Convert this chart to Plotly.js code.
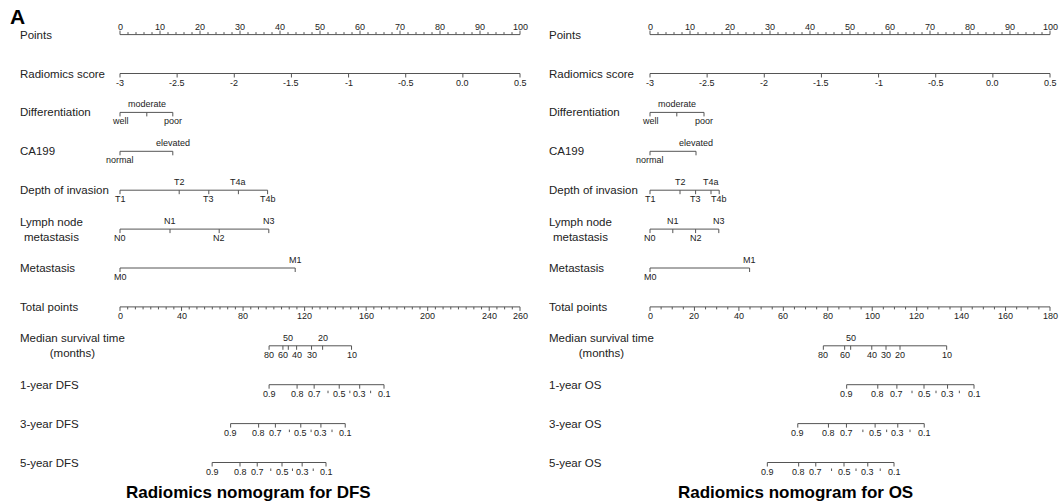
<!DOCTYPE html>
<html><head><meta charset="utf-8">
<script src="https://cdn.plot.ly/plotly-3.0.1.min.js"></script>
<style>html,body{margin:0;padding:0;background:#fff}#chart{width:1060px;height:504px}</style>
</head><body><div id="chart"></div>
<script>
// ---------------- DATA ----------------
const rowNames = ["Points","Radiomics score","Differentiation","CA199","Depth of invasion",
  "Lymph node<br>metastasis","Metastasis","Total points","Median survival time<br>(months)"];
const dfsProbRowNames = ["1-year DFS","3-year DFS","5-year DFS"];
const osProbRowNames  = ["1-year OS","3-year OS","5-year OS"];

const pointsLabels = [0,10,20,30,40,50,60,70,80,90,100];
const rsValues = [-3,-2.5,-2,-1.5,-1,-0.5,0,0.5];
const rsLabels = ["-3","-2.5","-2","-1.5","-1","-0.5","0.0","0.5"];

const diffLevels  = ["well","moderate","poor"];
const diffAbove   = [false,true,false];
const ca199Levels = ["normal","elevated"];
const ca199Above  = [false,true];
const depthLevels = ["T1","T2","T3","T4a","T4b"];
const depthAbove  = [false,true,false,true,false];
const lymphLevels = ["N0","N1","N2","N3"];
const lymphAbove  = [false,true,false,true];
const metLevels   = ["M0","M1"];
const metAbove    = [false,true];

// DFS nomogram (points)
const dfsDiffPts  = [0,6.7,13.2];
const dfsCa199Pts = [0,13.2];
const dfsDepthPts = [0,14.8,22.2,29.6,36.9];
const dfsLymphPts = [0,12.5,24.8,37.2];
const dfsMetPts   = [0,43.8];
const dfsTotalMax = 260;
const dfsTotalLabels = [0,40,80,120,160,200,240,260];
const medianMonths = [80,60,50,40,30,20,10];
const dfsMedianTotal = [96.9,105.9,109.4,114.8,124.5,131.7,150.5];
const dfsMedianAbove = [false,false,true,false,false,true,false];
const probLevels = [0.9,0.8,0.7,0.6,0.5,0.4,0.3,0.2,0.1];
const probShown  = [true,true,true,false,true,false,true,false,true];
const dfs1yTotal = [96.9,115.1,126.2,135.2,142.5,149.4,155.8,162.9,171.6];
const dfs3yTotal = [71.9,90.1,101.0,110.1,117.5,124.2,130.6,137.8,146.4];
const dfs5yTotal = [59.9,78.0,89.2,98.0,105.3,112.1,118.4,125.6,133.9];

// OS nomogram (points)
const osDiffPts  = [0,6.7,13.5];
const osCa199Pts = [0,11.5];
const osDepthPts = [0,7.5,11.4,15.25,17.3];
const osLymphPts = [0,5.7,11.4,17.2];
const osMetPts   = [0,24.9];
const osTotalMax = 180;
const osTotalLabels = [0,20,40,60,80,100,120,140,160,180];
const osMedianTotal = [78.0,87.6,90.3,99.8,106.2,112.5,133.5];
const osMedianAbove = [false,false,true,false,false,false,false];
const os1yTotal = [88.5,102.5,111.1,117.9,123.3,128.7,133.9,139.2,145.8];
const os3yTotal = [66.5,80.3,88.4,95.8,101.3,106.5,111.5,117.0,123.4];
const os5yTotal = [52.8,66.9,74.6,81.7,87.3,92.7,98.0,103.6,109.8];

// ---------------- LAYOUT / DRAWING ----------------
const W = 1060, H = 504;
const ROW_PX = 38.9, TOP_PX = 34.6;
const u = p => p / ROW_PX;          // pixels -> y units
const LINE = '#555', TXT = '#222';
const FONT = 'Liberation Sans, Arial, Helvetica, sans-serif';
const PAD = 10;

const traces = [], ann = [];

function addScale(xa, row, pos, labels, opts) {
  opts = opts || {};
  const dir = opts.up ? -1 : 1;
  const lo = Math.min.apply(null, pos), hi = Math.max.apply(null, pos);
  traces.push({x: [lo, hi], y: [row,row], xaxis: xa, yaxis: 'y', mode: 'lines',
    line: {color: LINE, width: 1}, hoverinfo: 'skip', showlegend: false});
  const tx = [], ty = [];
  pos.forEach((p, i) => {
    const lab = labels[i];
    if (lab === '' && opts.offTicks) {
      tx.push(p, p, null); ty.push(row + u(6), row + u(8.5), null);
    } else {
      tx.push(p, p, null); ty.push(row, row + dir * u(4), null);
    }
  });
  (opts.minor || []).forEach(p => { tx.push(p, p, null); ty.push(row, row + dir * u(2.5), null); });
  traces.push({x: tx, y: ty, xaxis: xa, yaxis: 'y', mode: 'lines',
    line: {color: LINE, width: 1}, hoverinfo: 'skip', showlegend: false});
  pos.forEach((p, i) => {
    const lab = labels[i];
    if (lab === '') return;
    const above = opts.up || (opts.above && opts.above[i]);
    ann.push({xref: xa, yref: 'y', x: p, y: row, text: lab, showarrow: false,
      xanchor: 'center', yanchor: above ? 'bottom' : 'top', yshift: above ? 1 : -2,
      font: {size: 9, color: TXT, family: FONT}});
  });
}

function rowLabel(xpx, row, text) {
  ann.push({xref: 'paper', yref: 'y', x: xpx / W, y: row, text: text, showarrow: false,
    xanchor: 'left', yanchor: 'middle', align: 'center',
    font: {size: 11.5, color: TXT, family: FONT}});
}

function minorTicks(max, step, majors) {
  const m = [];
  for (let v = 0; v <= max + 1e-9; v += step) if (!majors.includes(v)) m.push(v);
  return m;
}

function panel(cfg) {
  const xa = cfg.xa, xt = cfg.xt;
  const names = rowNames.concat(cfg.probRowNames);
  names.forEach((n, i) => rowLabel(cfg.labelX, i, n));
  addScale(xa, 0, pointsLabels, pointsLabels.map(String),
    {up: true, minor: minorTicks(100, 2, pointsLabels)});
  const rsPts = rsValues.map(v => (v - rsValues[0]) / (rsValues[rsValues.length-1] - rsValues[0]) * 100);
  addScale(xa, 1, rsPts, rsLabels);
  addScale(xa, 2, cfg.diff, diffLevels, {above: diffAbove});
  addScale(xa, 3, cfg.ca199, ca199Levels, {above: ca199Above});
  addScale(xa, 4, cfg.depth, depthLevels, {above: depthAbove});
  addScale(xa, 5, cfg.lymph, lymphLevels, {above: lymphAbove});
  addScale(xa, 6, cfg.met, metLevels, {above: metAbove});
  addScale(xt, 7, cfg.totalLabels, cfg.totalLabels.map(String),
    {minor: minorTicks(cfg.totalMax, 5, cfg.totalLabels)});
  addScale(xt, 8, cfg.median, medianMonths.map(String), {above: cfg.medianAbove});
  const probLab = probLevels.map((p, i) => probShown[i] ? String(p) : '');
  [cfg.p1, cfg.p3, cfg.p5].forEach((arr, k) => addScale(xt, 9 + k, arr, probLab, {offTicks: true}));
  ann.push({xref: 'paper', yref: 'paper', x: cfg.titleX / W, y: 1 - 492 / H,
    text: '<b>' + cfg.title + '</b>', showarrow: false, xanchor: 'center', yanchor: 'middle',
    font: {size: 17, color: '#000', family: FONT}});
}

const L = {x0: 120, x1: 520}, R = {x0: 650, x1: 1050};

panel({xa: 'x', xt: 'x2', labelX: 18, probRowNames: dfsProbRowNames,
  diff: dfsDiffPts, ca199: dfsCa199Pts, depth: dfsDepthPts, lymph: dfsLymphPts, met: dfsMetPts,
  totalMax: dfsTotalMax, totalLabels: dfsTotalLabels, median: dfsMedianTotal, medianAbove: dfsMedianAbove,
  p1: dfs1yTotal, p3: dfs3yTotal, p5: dfs5yTotal,
  title: 'Radiomics nomogram for DFS', titleX: 248});
panel({xa: 'x3', xt: 'x4', labelX: 547, probRowNames: osProbRowNames,
  diff: osDiffPts, ca199: osCa199Pts, depth: osDepthPts, lymph: osLymphPts, met: osMetPts,
  totalMax: osTotalMax, totalLabels: osTotalLabels, median: osMedianTotal, medianAbove: osMedianAbove,
  p1: os1yTotal, p3: os3yTotal, p5: os5yTotal,
  title: 'Radiomics nomogram for OS', titleX: 795});

ann.push({xref: 'paper', yref: 'paper', x: 8 / W, y: 1 - 17 / H, text: '<b>A</b>', showarrow: false,
  xanchor: 'left', yanchor: 'middle', font: {size: 21, color: '#000', family: FONT}});

function rangeFor(p, max) {
  const per = max / (p.x1 - p.x0);
  return [-PAD * per, max + PAD * per];
}
const hidden = {visible: false, showgrid: false, zeroline: false, fixedrange: true, autorange: false};

const layout = {
  width: W, height: H, margin: {l: 0, r: 0, t: 0, b: 0, pad: 0},
  paper_bgcolor: '#fff', plot_bgcolor: 'rgba(0,0,0,0)', showlegend: false,
  xaxis:  Object.assign({}, hidden, {domain: [(L.x0 - PAD) / W, (L.x1 + PAD) / W], range: rangeFor(L, 100), anchor: 'y'}),
  xaxis2: Object.assign({}, hidden, {overlaying: 'x', range: rangeFor(L, dfsTotalMax), anchor: 'y'}),
  xaxis3: Object.assign({}, hidden, {domain: [(R.x0 - PAD) / W, (R.x1 + PAD) / W], range: rangeFor(R, 100), anchor: 'y'}),
  xaxis4: Object.assign({}, hidden, {overlaying: 'x3', range: rangeFor(R, osTotalMax), anchor: 'y'}),
  yaxis:  Object.assign({}, hidden, {domain: [0, 1], range: [(H - TOP_PX) / ROW_PX, -TOP_PX / ROW_PX]}),
  annotations: ann
};

Plotly.newPlot('chart', traces, layout, {staticPlot: true, displayModeBar: false});
</script>
</body></html>
